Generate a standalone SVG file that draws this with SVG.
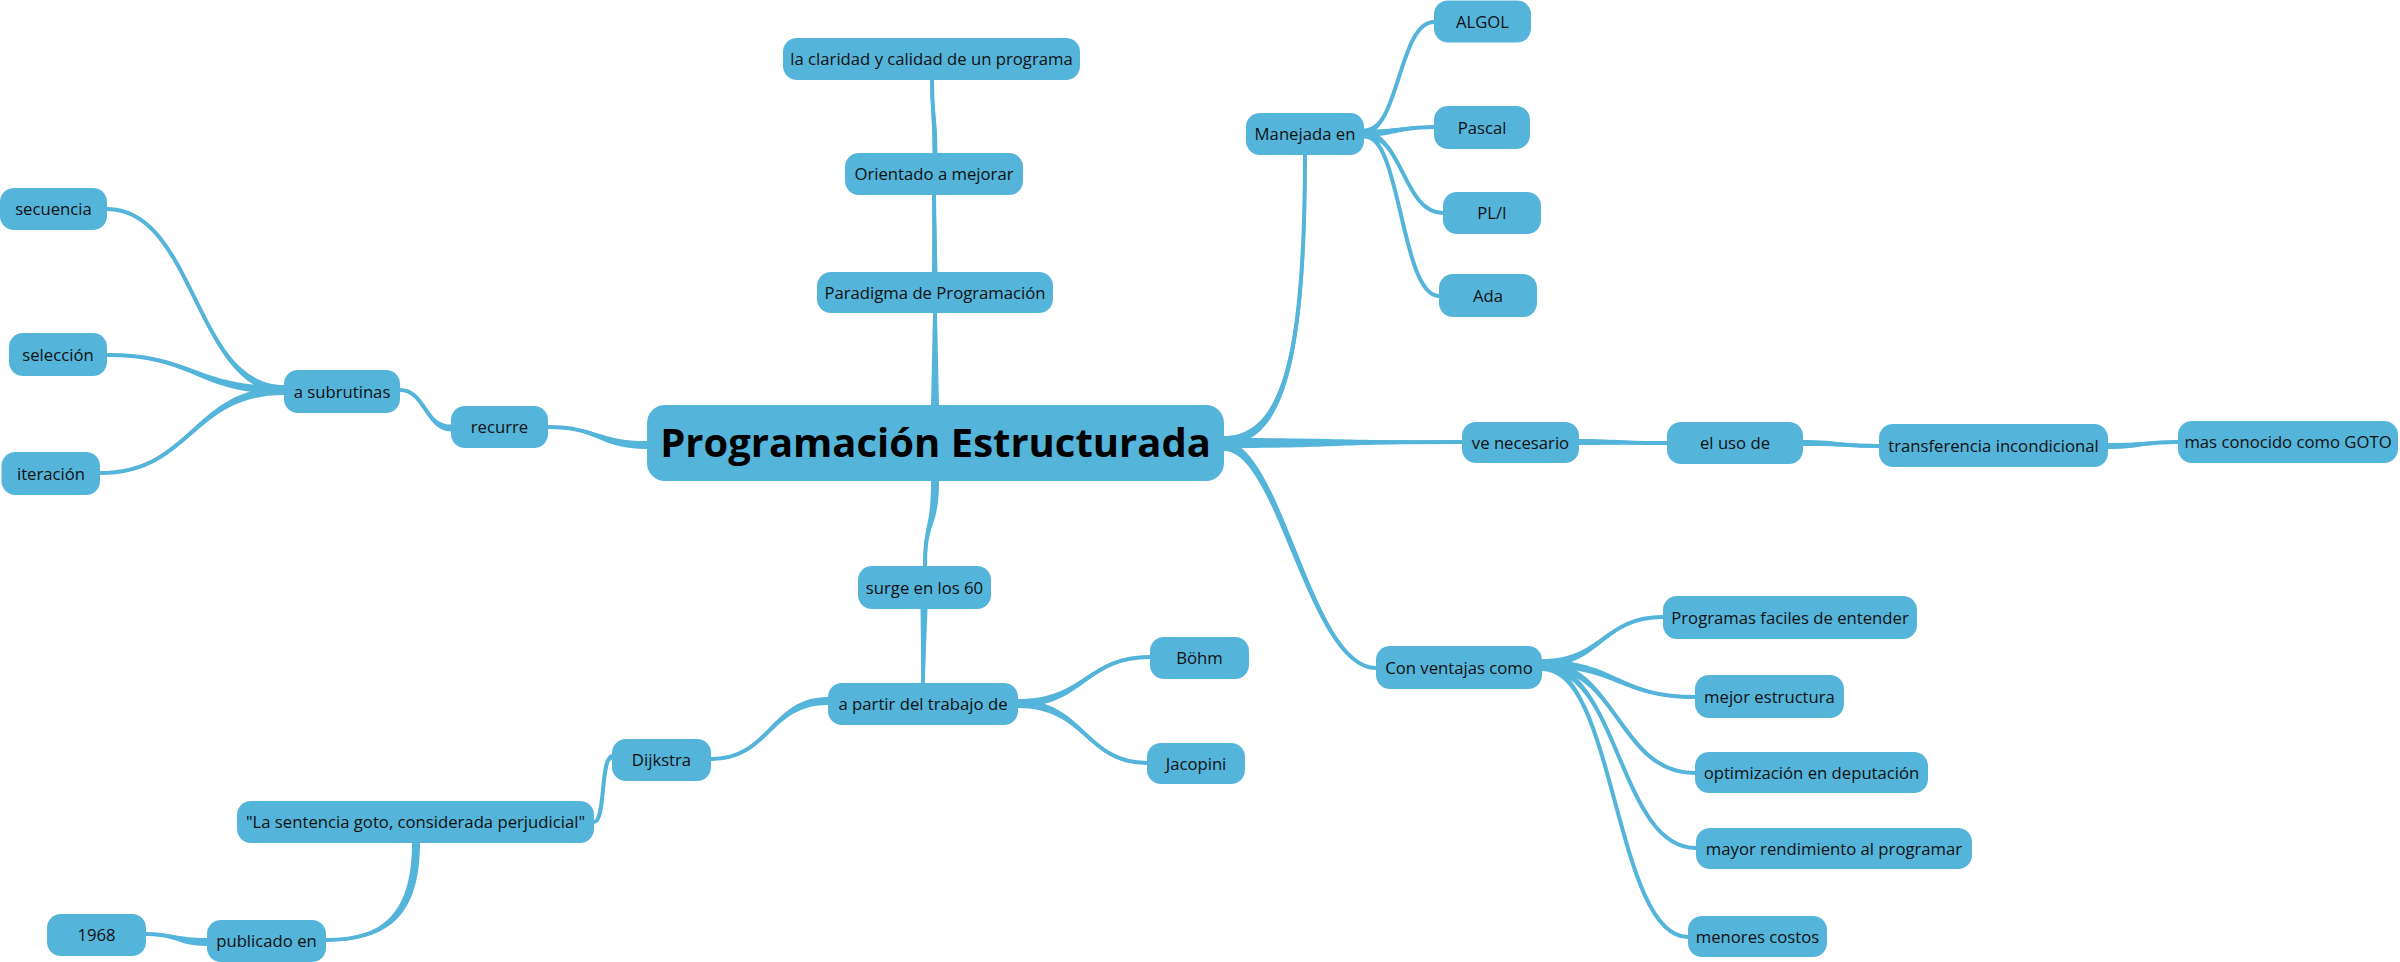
<svg xmlns="http://www.w3.org/2000/svg" width="2400" height="962" viewBox="0 0 2400 962">
<style>
.n rect{fill:#54b4da}
.n text{font-family:"Open Sans","Noto Sans","Liberation Sans",sans-serif;font-size:16.7px;fill:#111;text-anchor:middle}
#central text{font-size:40px;font-weight:700;fill:#000}
#connectors .s{fill:none;stroke:#54b4da;stroke-width:4;stroke-linecap:round}
#connectors .f{fill:#54b4da;stroke:none}
</style>
<rect width="2400" height="962" fill="#fff"/>
<g id="connectors">
<path class="s" d="M935,406 L935,313"/>
<path class="f" d="M931,406 L933,313 L937,313 L939,406 Z"/>
<path class="s" d="M935,272 L934,195"/>
<path class="f" d="M932,272 L932.5,195 L935.5,195 L937.5,272 Z"/>
<path class="s" d="M935,153 C935,115 932,115 932,80"/>
<path class="f" d="M932.5,153 C932.5,115 930.5,115 930.5,80 L933.5,80 C933.5,115 937.5,115 937.5,153 Z"/>
<path class="s" d="M935,481 C935,530 925,520 925,566"/>
<path class="f" d="M931,481 C931,530 923.5,520 923.5,566 L926.5,566 C926.5,520 939,530 939,481 Z"/>
<path class="s" d="M924,609 L923,683"/>
<path class="f" d="M920.5,609 L921.5,683 L924.5,683 L927.5,609 Z"/>
<path class="s" d="M1018,703 C1085,703 1085,657 1150,657"/>
<path class="f" d="M1018,699 C1085,699 1085,655.7 1150,655.7 L1150,658.3 C1085,658.3 1085,707 1018,707 Z"/>
<path class="s" d="M1018,704 C1085,704 1085,763 1147,763"/>
<path class="f" d="M1018,700 C1085,700 1085,761.7 1147,761.7 L1147,764.3 C1085,764.3 1085,708 1018,708 Z"/>
<path class="s" d="M828,701 C770,701 770,759 711,759"/>
<path class="f" d="M828,697 C770,697 770,757.7 711,757.7 L711,760.3 C770,760.3 770,705 828,705 Z"/>
<path class="s" d="M612,757 C600,757 606,822 594,822"/>
<path class="f" d="M612,754 C600,754 606,820.7 594,820.7 L594,823.3 C606,823.3 600,760 612,760 Z"/>
<path class="s" d="M416,843 C416,920 380,940 326,940"/>
<path class="f" d="M412,843 C412,918 378,938.7 326,938.7 L326,941.3 C382,941.3 420,922 420,843 Z"/>
<path class="s" d="M207,942 C176,942 176,934 146,934"/>
<path class="f" d="M207,938 C176,938 176,932.7 146,932.7 L146,935.3 C176,935.3 176,946 207,946 Z"/>
<path class="s" d="M647,445 C598,445 598,427 548,427"/>
<path class="f" d="M647,441 C598,441 598,425.7 548,425.7 L548,428.3 C598,428.3 598,449 647,449 Z"/>
<path class="s" d="M451,428 C425,428 425,390 400,390"/>
<path class="f" d="M451,424.5 C425,424.5 425,388.7 400,388.7 L400,391.3 C425,391.3 425,431.5 451,431.5 Z"/>
<path class="s" d="M284,389 C195,389 195,209 107,209"/>
<path class="f" d="M284,385 C195,385 195,207.7 107,207.7 L107,210.3 C195,210.3 195,393 284,393 Z"/>
<path class="s" d="M284,390 C195,390 195,355 107,355"/>
<path class="f" d="M284,386 C195,386 195,353.7 107,353.7 L107,356.3 C195,356.3 195,394 284,394 Z"/>
<path class="s" d="M284,391 C192,391 192,473 100,473"/>
<path class="f" d="M284,387 C192,387 192,471.7 100,471.7 L100,474.3 C192,474.3 192,395 284,395 Z"/>
<path class="s" d="M1224,440 C1285,440 1305,350 1305,155"/>
<path class="f" d="M1224,436 C1283,436 1303.5,350 1303.5,155 L1306.5,155 C1306.5,350 1288,445 1224,445 Z"/>
<path class="s" d="M1364,132 C1399,132 1399,22 1434,22"/>
<path class="f" d="M1364,128.5 C1399,128.5 1399,20.7 1434,20.7 L1434,23.3 C1399,23.3 1399,135.5 1364,135.5 Z"/>
<path class="s" d="M1364,133 C1399,133 1399,127 1434,127"/>
<path class="f" d="M1364,129.5 C1399,129.5 1399,125.7 1434,125.7 L1434,128.3 C1399,128.3 1399,136.5 1364,136.5 Z"/>
<path class="s" d="M1364,134 C1403,134 1403,213 1443,213"/>
<path class="f" d="M1364,130.5 C1403,130.5 1403,211.7 1443,211.7 L1443,214.3 C1403,214.3 1403,137.5 1364,137.5 Z"/>
<path class="s" d="M1364,135 C1401,135 1401,296 1439,296"/>
<path class="f" d="M1364,131.5 C1401,131.5 1401,294.7 1439,294.7 L1439,297.3 C1401,297.3 1401,138.5 1364,138.5 Z"/>
<path class="s" d="M1224,443 C1343,443 1343,442 1462,442"/>
<path class="f" d="M1224,438 C1343,438 1343,440.5 1462,440.5 L1462,443.5 C1343,443.5 1343,448 1224,448 Z"/>
<path class="s" d="M1578,442 C1622,442 1622,443 1667,443"/>
<path class="f" d="M1578,439 C1622,439 1622,441.7 1667,441.7 L1667,444.3 C1622,444.3 1622,445 1578,445 Z"/>
<path class="s" d="M1803,443 C1841,443 1841,446 1879,446"/>
<path class="f" d="M1803,440 C1841,440 1841,444.7 1879,444.7 L1879,447.3 C1841,447.3 1841,446 1803,446 Z"/>
<path class="s" d="M2108,446 C2143,446 2143,442 2178,442"/>
<path class="f" d="M2108,443 C2143,443 2143,440.7 2178,440.7 L2178,443.3 C2143,443.3 2143,449 2108,449 Z"/>
<path class="s" d="M1224,446 C1280,446 1310,668 1376,668"/>
<path class="f" d="M1224,441 C1282,441 1312,666.7 1376,666.7 L1376,669.3 C1308,669.3 1278,451 1224,451 Z"/>
<path class="s" d="M1542,663 C1602,663 1602,617 1663,617"/>
<path class="f" d="M1542,659 C1602,659 1602,615.7 1663,615.7 L1663,618.3 C1602,618.3 1602,667 1542,667 Z"/>
<path class="s" d="M1542,664 C1618,664 1618,697 1695,697"/>
<path class="f" d="M1542,660 C1618,660 1618,695.7 1695,695.7 L1695,698.3 C1618,698.3 1618,668 1542,668 Z"/>
<path class="s" d="M1542,665 C1618,665 1618,773 1695,773"/>
<path class="f" d="M1542,661 C1618,661 1618,771.7 1695,771.7 L1695,774.3 C1618,774.3 1618,669 1542,669 Z"/>
<path class="s" d="M1542,666 C1619,666 1619,848 1696,848"/>
<path class="f" d="M1542,662 C1619,662 1619,846.7 1696,846.7 L1696,849.3 C1619,849.3 1619,670 1542,670 Z"/>
<path class="s" d="M1542,667 C1615,667 1615,937 1688,937"/>
<path class="f" d="M1542,663 C1615,663 1615,935.7 1688,935.7 L1688,938.3 C1615,938.3 1615,671 1542,671 Z"/>
</g>
<g id="central" class="n"><rect x="647" y="405" width="577" height="76" rx="18"/><text x="935.5" y="457">Programación Estructurada</text></g>
<g id="claridad" class="n"><rect x="783" y="38" width="297" height="42" rx="14"/><text x="931.5" y="65">la claridad y calidad de un programa</text></g>
<g id="orientado" class="n"><rect x="845" y="153" width="178" height="42" rx="14"/><text x="934" y="180">Orientado a mejorar</text></g>
<g id="paradigma" class="n"><rect x="817" y="272" width="236" height="41" rx="14"/><text x="935" y="298.5">Paradigma de Programación</text></g>
<g id="manejada" class="n"><rect x="1246" y="113" width="118" height="42" rx="14"/><text x="1305" y="140">Manejada en</text></g>
<g id="algol" class="n"><rect x="1434" y="0.5" width="97" height="42" rx="14"/><text x="1482.5" y="27.5">ALGOL</text></g>
<g id="pascal" class="n"><rect x="1434" y="106" width="96" height="43" rx="14"/><text x="1482" y="133.5">Pascal</text></g>
<g id="pli" class="n"><rect x="1443" y="192" width="98" height="42" rx="14"/><text x="1492" y="219">PL/I</text></g>
<g id="ada" class="n"><rect x="1439" y="274" width="98" height="43" rx="14"/><text x="1488" y="301.5">Ada</text></g>
<g id="venecesario" class="n"><rect x="1462" y="422" width="117" height="41" rx="14"/><text x="1520.5" y="448.5">ve necesario</text></g>
<g id="usode" class="n"><rect x="1667" y="422" width="136" height="42" rx="14"/><text x="1735" y="449">el uso de</text></g>
<g id="transferencia" class="n"><rect x="1879" y="424" width="229" height="43" rx="14"/><text x="1993.5" y="451.5">transferencia incondicional</text></g>
<g id="goto" class="n"><rect x="2178" y="421" width="220" height="42" rx="14"/><text x="2288" y="448">mas conocido como GOTO</text></g>
<g id="ventajas" class="n"><rect x="1376" y="646" width="166" height="43" rx="14"/><text x="1459" y="673.5">Con ventajas como</text></g>
<g id="programas" class="n"><rect x="1663" y="596" width="254" height="43" rx="14"/><text x="1790" y="623.5">Programas faciles de entender</text></g>
<g id="mejor" class="n"><rect x="1695" y="675" width="149" height="43" rx="14"/><text x="1769.5" y="702.5">mejor estructura</text></g>
<g id="optimizacion" class="n"><rect x="1695" y="752" width="233" height="41" rx="14"/><text x="1811.5" y="778.5">optimización en deputación</text></g>
<g id="rendimiento" class="n"><rect x="1696" y="828" width="276" height="41" rx="14"/><text x="1834" y="854.5">mayor rendimiento al programar</text></g>
<g id="costos" class="n"><rect x="1688" y="916" width="139" height="41" rx="14"/><text x="1757.5" y="942.5">menores costos</text></g>
<g id="surge" class="n"><rect x="858" y="566" width="133" height="43" rx="14"/><text x="924.5" y="593.5">surge en los 60</text></g>
<g id="apartir" class="n"><rect x="828" y="683" width="190" height="42" rx="14"/><text x="923" y="710">a partir del trabajo de</text></g>
<g id="bohm" class="n"><rect x="1150" y="637" width="99" height="42" rx="14"/><text x="1199.5" y="664">Böhm</text></g>
<g id="jacopini" class="n"><rect x="1147" y="743" width="98" height="41" rx="14"/><text x="1196" y="769.5">Jacopini</text></g>
<g id="dijkstra" class="n"><rect x="612" y="739" width="99" height="42" rx="14"/><text x="661.5" y="766">Dijkstra</text></g>
<g id="sentencia" class="n"><rect x="237" y="801" width="357" height="42" rx="14"/><text x="415.5" y="828">"La sentencia goto, considerada perjudicial"</text></g>
<g id="publicado" class="n"><rect x="207" y="920" width="119" height="42" rx="14"/><text x="266.5" y="947">publicado en</text></g>
<g id="y1968" class="n"><rect x="47" y="914" width="99" height="42" rx="14"/><text x="96.5" y="941">1968</text></g>
<g id="recurre" class="n"><rect x="451" y="406" width="97" height="42" rx="14"/><text x="499.5" y="433">recurre</text></g>
<g id="subrutinas" class="n"><rect x="284" y="370" width="116" height="43" rx="14"/><text x="342" y="397.5">a subrutinas</text></g>
<g id="secuencia" class="n"><rect x="0" y="188" width="107" height="42" rx="14"/><text x="53.5" y="215">secuencia</text></g>
<g id="seleccion" class="n"><rect x="9" y="333" width="98" height="43" rx="14"/><text x="58" y="360.5">selección</text></g>
<g id="iteracion" class="n"><rect x="1.5" y="452" width="98.5" height="43" rx="14"/><text x="51" y="479.5">iteración</text></g>
</svg>
